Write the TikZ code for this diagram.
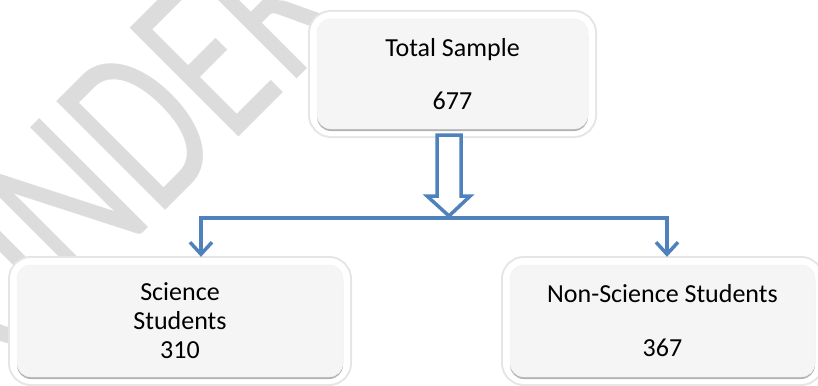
\documentclass[tikz,border=0pt]{standalone}
\usepackage{fontspec}
\setmainfont{Carlito}
\usetikzlibrary{calc,arrows.meta}
\definecolor{flowblue}{HTML}{4F81BD}
\definecolor{boxfill}{HTML}{F5F5F5}
\definecolor{markgray}{HTML}{DCDCDC}

\begin{document}
\begin{tikzpicture}[x=1pt,y=-1pt,
  box/.style={rounded corners=14pt, fill=boxfill, draw=black!6, inner sep=0pt,
    align=center, font=\fontsize{26}{29}\selectfont,
    preaction={draw=black!10, line width=18pt},
    preaction={draw=white, line width=14pt},
    preaction={fill=black!30, transform canvas={yshift=-2pt}}},
  branch/.style={draw=flowblue, line width=3.5pt,
    -{Straight Barb[length=12pt,width=22pt]}},
  hollowarrow/.style={draw=flowblue, fill=white, line width=3.5pt}]

 \useasboundingbox (0,0) rectangle (818,385);
 \clip (0,0) rectangle (818,385);

 % watermark
 \node[rotate=45, anchor=base west, text=markgray, inner sep=0pt,
   font=\fontsize{240}{240}\selectfont] (watermark) at (4,372)
   {\scalebox{0.7}[1]{UNDER REVIEW}};

 \node[box, minimum width=271pt, minimum height=110pt] (total) at (452.5,74)
   {Total Sample\\[24pt]677};

 \node[box, minimum width=326pt, minimum height=112pt] (science) at (180,321)
   {Science\\Students\\310};

 \node[box, minimum width=305pt, minimum height=112pt] (nonscience) at (662.5,321)
   {Non-Science Students\\[25pt]367};

 \coordinate (split) at (449,218);
 \coordinate (bl) at (201,218);
 \coordinate (br) at (667,218);

 % hollow arrow from the total
 \draw[hollowarrow] ([shift={(-12,6)}]split |- total.south) -- ++(24,0) -- ++(0,61)
   -- ++(9,0) -- ([yshift=2pt]split) -- ++(-22,-20) -- ++(10,0) -- cycle;

 \draw[branch] (split) -- (bl) -- ([yshift=8pt]bl |- science.north);
 \draw[branch] (split) -- (br) -- ([yshift=8pt]br |- nonscience.north);

\end{tikzpicture}
\end{document}
